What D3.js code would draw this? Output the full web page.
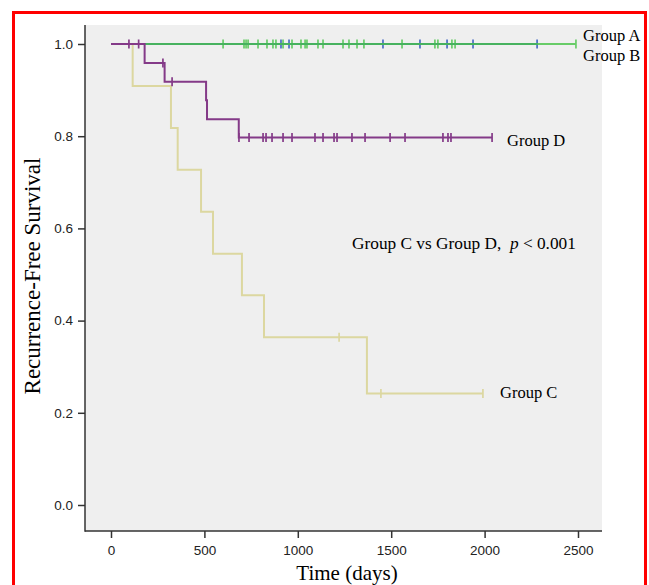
<!DOCTYPE html>
<html>
<head>
<meta charset="utf-8">
<script src="https://cdn.jsdelivr.net/npm/d3@7"></script>
<style>
  body { margin: 0; background: #fff; }
  svg { display: block; }
</style>
</head>
<body>
<svg id="chart"></svg>
<script>
const WIDTH = 649;
const HEIGHT = 585;

// x ticks / y ticks
const xTicks = [0, 500, 1000, 1500, 2000, 2500];
const yTicks = [0, 0.2, 0.4, 0.6, 0.8, 1.0];

// Group A (blue) - no events
const groupAEvents = [];
const groupASurv = [];
const groupACensor = [910, 953, 1456, 1654, 1799, 1938, 2281];

// Group B (green) - no events
const groupBEvents = [];
const groupBSurv = [];
const groupBCensor = [600, 712, 723, 734, 787, 835, 867, 883, 921, 969, 1017, 1039, 1049,
  1108, 1135, 1242, 1274, 1317, 1354, 1558, 1734, 1750, 1825, 1842, 2489];

// Group C (tan)
const groupCEvents = [116, 321, 357, 482, 546, 701, 819, 1370];
const groupCSurv = [0.909, 0.818, 0.727, 0.636, 0.545, 0.455, 0.364, 0.242];
const groupCCensor = [1221, 1445, 1991];

// Group D (purple)
const groupDEvents = [180, 287, 509, 514, 684];
const groupDSurv = [0.959, 0.918, 0.878, 0.837, 0.797];
const groupDCensor = [96, 148, 278, 327, 685, 739, 814, 830, 862, 921, 969, 1092, 1135,
  1194, 1210, 1290, 1360, 1494, 1574, 1777, 1804, 1820, 2040];

const groups = [
  { name: "A", events: groupAEvents, surv: groupASurv, censor: groupACensor, color: "#4a6cc4", opacity: 1 },
  { name: "B", events: groupBEvents, surv: groupBSurv, censor: groupBCensor, color: "#47c447", opacity: 0.8 },
  { name: "C", events: groupCEvents, surv: groupCSurv, censor: groupCCensor, color: "#dcd7a0", opacity: 1 },
  { name: "D", events: groupDEvents, surv: groupDSurv, censor: groupDCensor, color: "#843a88", opacity: 1 },
];

const panel = { left: 85, right: 602, top: 25, bottom: 531 };

const x = d3.scaleLinear().domain([0, 2500]).range([111, 578]);
const y = d3.scaleLinear().domain([0, 1]).range([505, 44]);

const svg = d3.select("#chart").attr("width", WIDTH).attr("height", HEIGHT);

// red frame
svg.append("rect")
  .attr("x", 13.5).attr("y", 12.5)
  .attr("width", 632).attr("height", 590)
  .attr("fill", "none").attr("stroke", "#ff0000").attr("stroke-width", 3);

// plot panel
svg.append("rect")
  .attr("x", panel.left).attr("y", panel.top)
  .attr("width", panel.right - panel.left).attr("height", panel.bottom - panel.top)
  .attr("fill", "#efefef");

const survAt = (g, t) => {
  let s = 1;
  g.events.forEach((e, i) => { if (e <= t) s = g.surv[i]; });
  return s;
};

const line = d3.line()
  .x((d) => x(d[0]))
  .y((d) => y(d[1]))
  .curve(d3.curveStepAfter);

groups.forEach((g) => {
  const end = d3.max(g.censor.concat(g.events));
  const pts = [[0, 1]];
  g.events.forEach((e, i) => pts.push([e, g.surv[i]]));
  pts.push([end, survAt(g, end)]);

  const grp = svg.append("g").attr("opacity", g.opacity);
  grp.append("path")
    .attr("d", line(pts))
    .attr("fill", "none")
    .attr("stroke", g.color)
    .attr("stroke-width", 2);

  grp.selectAll("line.censor")
    .data(g.censor)
    .join("line")
    .attr("class", "censor")
    .attr("x1", (d) => x(d)).attr("x2", (d) => x(d))
    .attr("y1", (d) => y(survAt(g, d)) - 4.5)
    .attr("y2", (d) => y(survAt(g, d)) + 4.5)
    .attr("stroke", g.color)
    .attr("stroke-width", 1.7);
});

// axes
const axisColor = "#333";
const xAxis = svg.append("g")
  .attr("transform", `translate(0,${panel.bottom})`)
  .call(d3.axisBottom(x).tickValues(xTicks).tickSize(7).tickSizeOuter(0).tickFormat(d3.format("d")));
const yAxis = svg.append("g")
  .attr("transform", `translate(${panel.left},0)`)
  .call(d3.axisLeft(y).tickValues(yTicks).tickSize(7).tickSizeOuter(0).tickFormat(d3.format(".1f")));

[xAxis, yAxis].forEach((a) => {
  a.select(".domain").remove();
  a.selectAll(".tick line").attr("stroke", axisColor).attr("stroke-width", 1.5);
  a.selectAll(".tick text")
    .attr("fill", "#222")
    .style("font-family", "Arial, 'Liberation Sans', sans-serif")
    .style("font-size", "13.5px");
});
xAxis.selectAll(".tick text").attr("dy", "1.0em");
yAxis.selectAll(".tick text").attr("x", -12);

svg.append("line")
  .attr("x1", panel.left).attr("x2", panel.left)
  .attr("y1", panel.top).attr("y2", panel.bottom + 0.75)
  .attr("stroke", axisColor).attr("stroke-width", 1.5);
svg.append("line")
  .attr("x1", panel.left).attr("x2", panel.right)
  .attr("y1", panel.bottom).attr("y2", panel.bottom)
  .attr("stroke", axisColor).attr("stroke-width", 1.5);

const serif = "'Times New Roman', 'Liberation Serif', serif";

// axis titles
svg.append("text")
  .attr("x", 347).attr("y", 580)
  .attr("text-anchor", "middle")
  .style("font-family", serif).style("font-size", "21px")
  .text("Time (days)");

svg.append("text")
  .attr("transform", "translate(40,276) rotate(-90)")
  .attr("text-anchor", "middle")
  .style("font-family", serif).style("font-size", "23px")
  .text("Recurrence-Free Survival");

// group labels
const labels = [
  { text: "Group A", x: 583, y: 41 },
  { text: "Group B", x: 583, y: 61 },
  { text: "Group D", x: 507, y: 146 },
  { text: "Group C", x: 500, y: 398 },
];
svg.selectAll("text.glabel")
  .data(labels)
  .join("text")
  .attr("class", "glabel")
  .attr("x", (d) => d.x).attr("y", (d) => d.y)
  .style("font-family", serif).style("font-size", "16.5px")
  .text((d) => d.text);

const pText = svg.append("text")
  .attr("x", 352).attr("y", 249)
  .style("font-family", serif).style("font-size", "17.3px")
  .attr("xml:space", "preserve")
  .style("white-space", "pre");
pText.append("tspan").text("Group C vs Group D,  ");
pText.append("tspan").style("font-style", "italic").text("p");
pText.append("tspan").text(" < 0.001");
</script>
</body>
</html>
